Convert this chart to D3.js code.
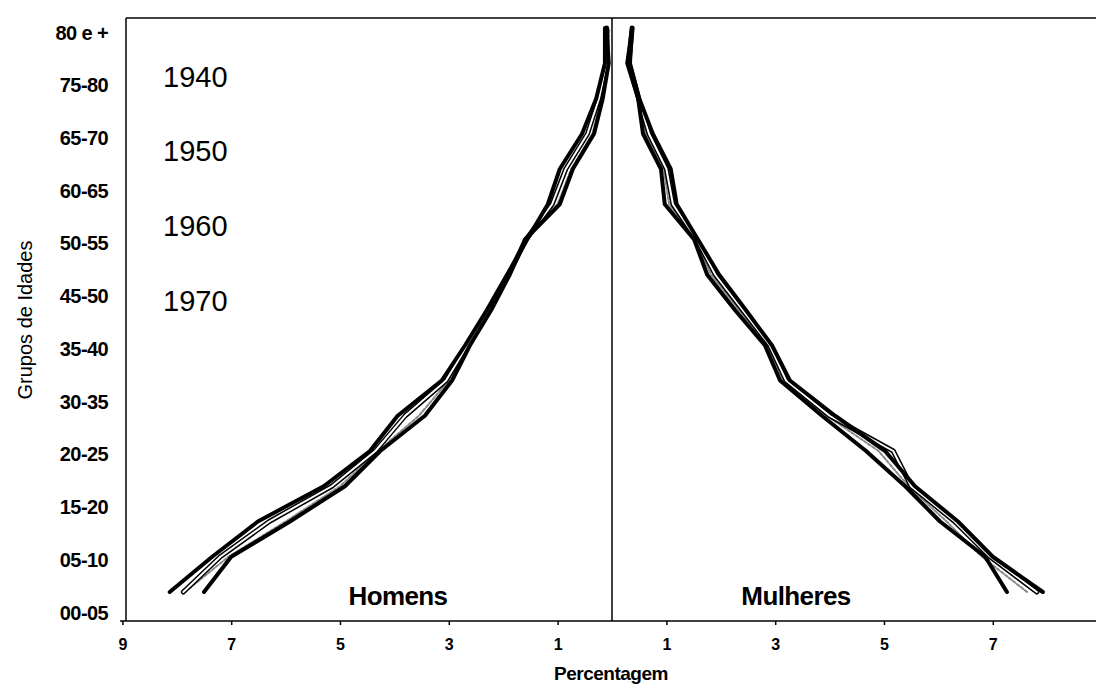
<!DOCTYPE html>
<html>
<head>
<meta charset="utf-8">
<script src="https://cdn.jsdelivr.net/npm/d3@7"></script>
<style>
  html, body { margin: 0; padding: 0; background: #fff; }
  svg { display: block; }
  text { font-family: "Liberation Sans", Arial, sans-serif; fill: #000; }
</style>
</head>
<body>
<svg id="chart" width="1096" height="689"></svg>
<script>
// ---- data ----
const ageGroups = ["00-05","05-10","10-15","15-20","20-25","25-30","30-35","35-40","40-45",
                   "45-50","50-55","55-60","60-65","65-70","70-75","75-80","80 e +"];
const yTickLabels = ["00-05","05-10","15-20","20-25","30-35","35-40","45-50","50-55",
                     "60-65","65-70","75-80","80 e +"];
const years = ["1940","1950","1960","1970"];
const xTicksLeft = [1,3,5,7,9];
const xTicksRight = [1,3,5,7];

const men1940 = [8.13,7.35,6.51,5.30,4.45,3.94,3.13,2.70,2.30,1.93,1.56,1.18,0.96,0.55,0.29,0.13,0.13];
const men1950 = [7.88,7.20,6.30,5.15,4.35,3.80,3.05,2.66,2.27,1.90,1.58,1.10,0.85,0.45,0.24,0.10,0.10];
const men1960 = [7.85,7.05,6.00,5.00,4.30,3.55,3.00,2.63,2.24,1.89,1.59,1.00,0.75,0.36,0.19,0.07,0.05];
const men1970 = [7.50,7.00,5.92,4.91,4.26,3.44,2.94,2.61,2.22,1.88,1.60,0.96,0.72,0.33,0.17,0.06,0.10];

const women1940 = [7.92,7.00,6.36,5.57,5.02,4.10,3.27,2.94,2.46,1.97,1.58,1.19,1.08,0.75,0.50,0.33,0.37];
const women1950 = [7.81,6.95,6.30,5.50,5.17,4.00,3.20,2.90,2.40,1.90,1.56,1.12,1.00,0.68,0.49,0.31,0.37];
const women1960 = [7.63,6.80,6.15,5.45,4.90,3.95,3.15,2.85,2.33,1.82,1.53,1.05,0.95,0.62,0.48,0.30,0.37];
const women1970 = [7.26,6.86,6.03,5.39,4.67,3.86,3.09,2.81,2.26,1.75,1.51,0.97,0.90,0.57,0.48,0.28,0.37];

const menSeries = [men1940, men1950, men1960, men1970];
const womenSeries = [women1940, women1950, women1960, women1970];

// ---- layout ----
const svg = d3.select("#chart");
const plotLeft = 126, plotTop = 18, plotBottom = 621, plotRight = 1096, center = 612;

const xL = d3.scaleLinear().domain([0, 9]).range([center, center - 9 * 54.4]);
const xR = d3.scaleLinear().domain([0, 9]).range([center, center + 9 * 54.4]);
const yData = d3.scalePoint().domain(ageGroups).range([592, 28]);
const yLab = d3.scalePoint().domain(yTickLabels).range([612, 32]);

// frame
svg.append("line").attr("x1", plotLeft).attr("x2", plotRight).attr("y1", plotTop).attr("y2", plotTop)
  .attr("stroke", "#000").attr("stroke-width", 1.5);
svg.append("line").attr("x1", plotLeft).attr("x2", plotLeft).attr("y1", plotTop).attr("y2", plotBottom)
  .attr("stroke", "#000").attr("stroke-width", 1.5);
svg.append("line").attr("x1", center).attr("x2", center).attr("y1", plotTop).attr("y2", plotBottom)
  .attr("stroke", "#000").attr("stroke-width", 1.5);

// x axes
const axL = d3.axisBottom(xL).tickValues(xTicksLeft).tickSize(4).tickSizeOuter(0).tickFormat(d3.format("d"));
const axR = d3.axisBottom(xR).tickValues(xTicksRight).tickSize(4).tickSizeOuter(0).tickFormat(d3.format("d"));
const gL = svg.append("g").attr("transform", `translate(0,${plotBottom})`).call(axL);
const gR = svg.append("g").attr("transform", `translate(0,${plotBottom})`).call(axR);
[gL, gR].forEach(g => {
  g.select(".domain").remove();
  g.selectAll(".tick line").attr("stroke", "#000").attr("stroke-width", 1.5);
  g.selectAll(".tick text").attr("dy", null).attr("y", 29)
    .style("font-family", "'Liberation Sans', Arial, sans-serif")
    .style("font-size", "16px").style("font-weight", "bold").attr("fill", "#000");
});
svg.append("line").attr("x1", 120).attr("x2", plotRight).attr("y1", plotBottom).attr("y2", plotBottom)
  .attr("stroke", "#000").attr("stroke-width", 1.5);

// y axis labels
const axY = d3.axisLeft(yLab).tickSize(0).tickPadding(0);
const gY = svg.append("g").attr("transform", "translate(108,0)").call(axY);
gY.select(".domain").remove();
gY.selectAll(".tick text").attr("dy", "0.35em")
  .style("font-family", "'Liberation Sans', Arial, sans-serif")
  .style("font-size", "20px").style("font-weight", "bold").style("letter-spacing", "-0.6px")
  .attr("fill", "#000");

// axis titles
svg.append("text").attr("x", 611).attr("y", 680).attr("text-anchor", "middle")
  .style("font-size", "19px").style("font-weight", "bold").style("letter-spacing", "-0.5px")
  .text("Percentagem");
svg.append("text").attr("transform", "translate(32,320) rotate(-90)").attr("text-anchor", "middle")
  .style("font-size", "20px").text("Grupos de Idades");

// side labels
svg.append("text").attr("x", 398).attr("y", 605).attr("text-anchor", "middle")
  .style("font-size", "26px").style("font-weight", "bold").style("letter-spacing", "-0.6px").text("Homens");
svg.append("text").attr("x", 796).attr("y", 605).attr("text-anchor", "middle")
  .style("font-size", "26px").style("font-weight", "bold").style("letter-spacing", "-0.6px").text("Mulheres");

// year labels
const yearY = [87, 161, 236, 311];
svg.selectAll("text.year").data(years).enter().append("text").attr("class", "year")
  .attr("x", 163).attr("y", (d, i) => yearY[i])
  .style("font-size", "29px").text(d => d);

// lines
const styles = [
  { stroke: "#000", width: 4, inner: null },
  { stroke: "#000", width: 5, inner: 2 },
  { stroke: "#888", width: 2, inner: null, dash: "3,2" },
  { stroke: "#000", width: 4, inner: null }
];
const lineL = d3.line().x(d => xL(d.v)).y(d => yData(d.a)).curve(d3.curveLinear);
const lineR = d3.line().x(d => xR(d.v)).y(d => yData(d.a)).curve(d3.curveLinear);

function drawSeries(arr, gen, st) {
  const pts = arr.map((v, i) => ({ v, a: ageGroups[i] }));
  svg.append("path").attr("d", gen(pts)).attr("fill", "none")
    .attr("stroke", st.stroke).attr("stroke-width", st.width)
    .attr("stroke-linejoin", "round").attr("stroke-linecap", "round")
    .attr("stroke-dasharray", st.dash || null);
  if (st.inner) {
    svg.append("path").attr("d", gen(pts)).attr("fill", "none")
      .attr("stroke", "#fff").attr("stroke-width", st.inner)
      .attr("stroke-linejoin", "round").attr("stroke-linecap", "round");
  }
}
[2, 1, 0, 3].forEach(k => {
  drawSeries(menSeries[k], lineL, styles[k]);
  drawSeries(womenSeries[k], lineR, styles[k]);
});
</script>
</body>
</html>
